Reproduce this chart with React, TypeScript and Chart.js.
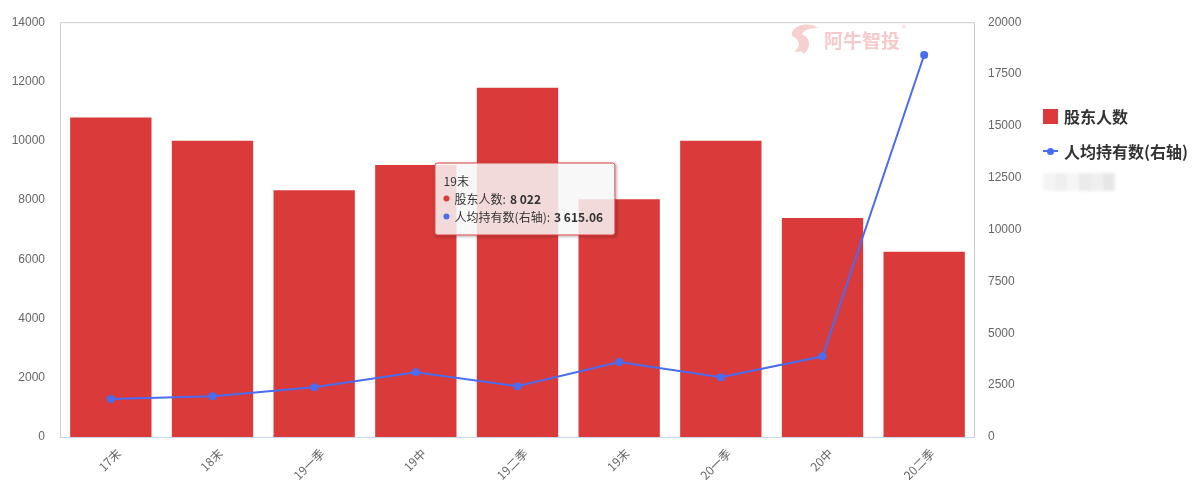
import React, { useEffect, useRef, useState } from "react";
import { Chart, registerables } from "chart.js";

Chart.register(...registerables);

const categories = ["17末", "18末", "19一季", "19中", "19二季", "19末", "20一季", "20中", "20二季"];
const holders = [10780, 10000, 8330, 9180, 11790, 8022, 10000, 7390, 6250];
const avgHolding = [1830, 1970, 2400, 3120, 2450, 3615.06, 2880, 3890, 18420];
const leftMax = 14000;
const leftStep = 2000;
const rightMax = 20000;
const rightStep = 2500;
const seriesNames = ["股东人数", "人均持有数(右轴)"];
const tooltipIndex = 5;

const RED = "#da3a3a";
const BLUE = "#4a6cf0";
const TICK_FONT = "'Liberation Sans', Arial, sans-serif";
const CJK_FONT = "'Noto Sans CJK SC', 'Noto Sans', sans-serif";

function fmt(v: number, decimals: number) {
  const s = v.toFixed(decimals);
  const [i, d] = s.split(".");
  const grouped = i.replace(/\B(?=(\d{3})+(?!\d))/g, " ");
  return d ? grouped + "." + d : grouped;
}

const framePlugin = {
  id: "frame",
  beforeDatasetsDraw(chart: any) {
    const { ctx, chartArea } = chart;
    const { left, right, top, bottom } = chartArea;
    ctx.save();
    ctx.lineWidth = 1;
    ctx.strokeStyle = "#cccccc";
    ctx.beginPath();
    ctx.moveTo(left + 0.5, bottom);
    ctx.lineTo(left + 0.5, top + 0.5);
    ctx.lineTo(right - 0.5, top + 0.5);
    ctx.lineTo(right - 0.5, bottom);
    ctx.stroke();
    ctx.strokeStyle = "#ccd6eb";
    ctx.beginPath();
    ctx.moveTo(left, bottom + 0.5);
    ctx.lineTo(right, bottom + 0.5);
    ctx.stroke();
    ctx.restore();
  },
};

export default function App() {
  const canvasRef = useRef<HTMLCanvasElement | null>(null);
  const [tip, setTip] = useState<{ x: number; y: number } | null>(null);

  useEffect(() => {
    document.body.style.margin = "0";
    const canvas = canvasRef.current;
    if (!canvas) return;
    const chart = new Chart(canvas, {
      type: "bar",
      data: {
        labels: categories,
        datasets: [
          {
            type: "bar",
            label: seriesNames[0],
            data: holders,
            backgroundColor: RED,
            yAxisID: "y",
            order: 1,
            barPercentage: 0.8,
            categoryPercentage: 1,
          },
          {
            type: "line",
            label: seriesNames[1],
            data: avgHolding,
            borderColor: BLUE,
            backgroundColor: BLUE,
            borderWidth: 2,
            pointRadius: 4,
            pointBackgroundColor: BLUE,
            pointBorderWidth: 0,
            tension: 0,
            yAxisID: "y1",
            order: 0,
          },
        ] as any,
      },
      options: {
        responsive: false,
        animation: false,
        events: [],
        layout: { padding: { top: 20, left: 0, right: 0, bottom: 0 } },
        plugins: {
          legend: { display: false },
          tooltip: { enabled: false },
        },
        scales: {
          x: {
            grid: { display: false, drawTicks: false },
            border: { display: false },
            afterFit: (scale: any) => {
              scale.height = 50;
            },
            ticks: {
              minRotation: 45,
              maxRotation: 45,
              padding: 9,
              labelOffset: 8,
              color: "#666",
              font: { family: CJK_FONT, size: 12 },
            },
          },
          y: {
            position: "left",
            min: 0,
            max: leftMax,
            grid: { display: false, drawTicks: false },
            border: { display: false },
            afterFit: (scale: any) => {
              scale.width = 60;
            },
            ticks: {
              stepSize: leftStep,
              padding: 15,
              color: "#666",
              font: { family: TICK_FONT, size: 12 },
              callback: (v: any) => String(v),
            },
          },
          y1: {
            position: "right",
            min: 0,
            max: rightMax,
            grid: { display: false, drawTicks: false },
            border: { display: false },
            afterFit: (scale: any) => {
              scale.width = 217;
            },
            ticks: {
              stepSize: rightStep,
              padding: 13,
              color: "#666",
              font: { family: TICK_FONT, size: 12 },
              callback: (v: any) => String(v),
            },
          },
        },
      } as any,
      plugins: [framePlugin],
    });
    const el: any = chart.getDatasetMeta(0).data[tooltipIndex];
    if (el) setTip({ x: el.x, y: el.y });
    return () => chart.destroy();
  }, []);

  return (
    <div style={{ position: "relative", width: 1192, height: 487, overflow: "hidden", background: "#fff" }}>
      <canvas ref={canvasRef} width={1192} height={487} style={{ display: "block" }} />

      {/* watermark */}
      <div
        style={{
          position: "absolute",
          left: 790,
          top: 22,
          display: "flex",
          alignItems: "center",
          color: "#f6caca",
          fontFamily: CJK_FONT,
          fontWeight: 700,
          fontSize: 19,
          pointerEvents: "none",
        }}
      >
        <svg width="32" height="34" viewBox="0 0 32 34" style={{ marginRight: 2 }}>
          <path d="M2 10 C6 2, 20 0, 28 6 C20 6, 14 8, 12 12 C20 16, 22 24, 14 32 C12 28, 8 30, 4 30 C12 24, 10 18, 2 14 Z" fill="#f6cfcf" />
        </svg>
        <span>阿牛智投</span>
        <span style={{ fontSize: 8, fontWeight: 400, alignSelf: "flex-start", marginLeft: 2 }}>®</span>
      </div>

      {/* legend */}
      <div style={{ position: "absolute", left: 1043, top: 104, fontFamily: CJK_FONT, color: "#333", fontSize: 16, fontWeight: 700 }}>
        <div style={{ display: "flex", alignItems: "center", height: 24 }}>
          <span style={{ display: "inline-block", width: 15, height: 15, background: RED, marginRight: 6 }} />
          <span>{seriesNames[0]}</span>
        </div>
        <div style={{ display: "flex", alignItems: "center", height: 24, marginTop: 11 }}>
          <span style={{ position: "relative", display: "inline-block", width: 15, height: 15, marginRight: 6 }}>
            <span style={{ position: "absolute", left: 0, top: 6, width: 15, height: 2, background: BLUE }} />
            <span style={{ position: "absolute", left: 4, top: 4, width: 7, height: 7, borderRadius: "50%", background: BLUE }} />
          </span>
          <span>{seriesNames[1]}</span>
        </div>
        <div style={{ display: "flex", marginTop: 10, filter: "blur(1.5px)", opacity: 0.8 }}>
          <span style={{ width: 12, height: 18, background: "#f2f2f2" }} />
          <span style={{ width: 12, height: 18, background: "#ebebeb" }} />
          <span style={{ width: 12, height: 18, background: "#f4f4f4" }} />
          <span style={{ width: 12, height: 18, background: "#e6e6e6" }} />
          <span style={{ width: 12, height: 18, background: "#ececec" }} />
          <span style={{ width: 12, height: 18, background: "#e2e2e2" }} />
        </div>
      </div>

      {/* tooltip */}
      {tip && (
        <div
          style={{
            position: "absolute",
            left: tip.x - 4,
            top: tip.y,
            transform: "translate(-100%, -50%)",
            background: "rgba(247,247,247,0.85)",
            border: `1px solid ${RED}`,
            borderRadius: 3,
            boxShadow: "1px 1px 3px rgba(0,0,0,0.25)",
            padding: "8px 11px 9px 8px",
            fontFamily: CJK_FONT,
            fontSize: 12,
            color: "#333",
            whiteSpace: "nowrap",
            lineHeight: "18px",
          }}
        >
          <div>{categories[tooltipIndex]}</div>
          <div style={{ display: "flex", alignItems: "center" }}>
            <span style={{ display: "inline-block", width: 6, height: 6, borderRadius: "50%", background: RED, marginRight: 5 }} />
            <span>{seriesNames[0]}: </span>
            <b style={{ marginLeft: 4 }}>{fmt(holders[tooltipIndex], 0)}</b>
          </div>
          <div style={{ display: "flex", alignItems: "center" }}>
            <span style={{ display: "inline-block", width: 6, height: 6, borderRadius: "50%", background: BLUE, marginRight: 5 }} />
            <span>{seriesNames[1]}: </span>
            <b style={{ marginLeft: 4 }}>{fmt(avgHolding[tooltipIndex], 2)}</b>
          </div>
        </div>
      )}
    </div>
  );
}
